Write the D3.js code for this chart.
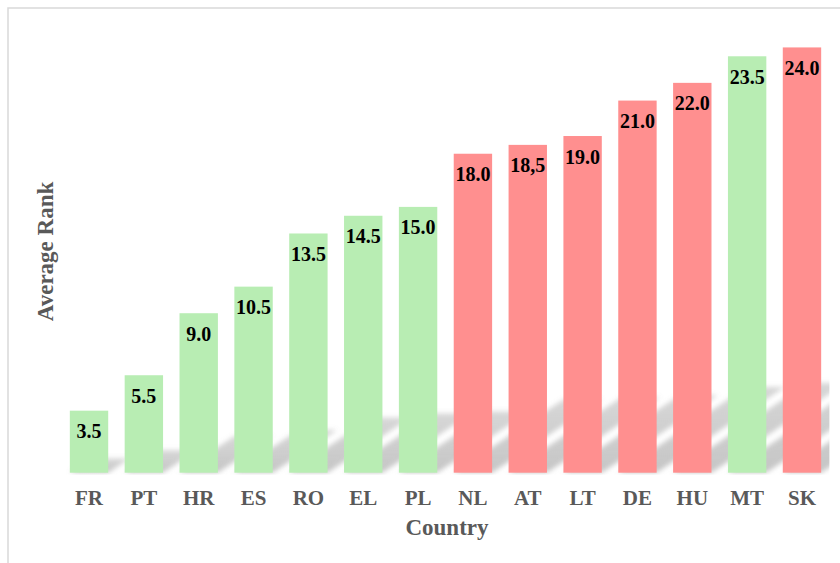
<!DOCTYPE html>
<html>
<head>
<meta charset="utf-8">
<script src="https://cdn.jsdelivr.net/npm/d3@7"></script>
<style>
  html, body { margin: 0; padding: 0; background: #fff; }
  svg { display: block; }
  text { font-family: "Liberation Serif", "Times New Roman", serif; font-weight: bold; }
</style>
</head>
<body>
<svg id="chart" width="840" height="563"></svg>
<script>
// Average rank per country
const countries = ["FR", "PT", "HR", "ES", "RO", "EL", "PL", "NL", "AT", "LT", "DE", "HU", "MT", "SK"];
const averageRank = [3.5, 5.5, 9.0, 10.5, 13.5, 14.5, 15.0, 18.0, 18.5, 19.0, 21.0, 22.0, 23.5, 24.0];
const valueLabels = ["3.5", "5.5", "9.0", "10.5", "13.5", "14.5", "15.0", "18.0", "18,5", "19.0", "21.0", "22.0", "23.5", "24.0"];
const groups = ["low", "low", "low", "low", "low", "low", "low", "high", "high", "high", "high", "high", "low", "high"];

const colors = { low: "#b8edb3", high: "#ff8f8f" };

const svg = d3.select("#chart");
const W = 840, H = 563;
const plot = { left: 61.6, right: 829.4, top: 29.7, bottom: 472.7 };

// Outer chart border
svg.append("rect")
  .attr("x", 8).attr("y", 8)
  .attr("width", W + 20).attr("height", H + 20)
  .attr("fill", "#fff")
  .attr("stroke", "#d9d9d9")
  .attr("stroke-width", 1.5);

const x = d3.scaleBand()
  .domain(countries)
  .range([plot.left, plot.right])
  .paddingInner(0.3)
  .paddingOuter(0.15);

const y = d3.scaleLinear()
  .domain([0, 25])
  .range([plot.bottom, plot.top]);

const data = countries.map((c, i) => ({ c, v: averageRank[i], label: valueLabels[i], g: groups[i] }));

const defs = svg.append("defs");
defs.append("clipPath").attr("id", "plotClip")
  .append("rect")
  .attr("x", plot.left - 20).attr("y", plot.top - 20)
  .attr("width", plot.right - plot.left + 20)
  .attr("height", plot.bottom - plot.top + 22);

const blur = defs.append("filter").attr("id", "shadowBlur")
  .attr("x", "-30%").attr("y", "-30%").attr("width", "160%").attr("height", "160%");
blur.append("feGaussianBlur").attr("stdDeviation", 2.6);

const grad = defs.append("linearGradient").attr("id", "shadowFade")
  .attr("x1", 0).attr("y1", 1).attr("x2", 0).attr("y2", 0);
grad.append("stop").attr("offset", "0%").attr("stop-color", "#8c8c8c").attr("stop-opacity", 0.5);
grad.append("stop").attr("offset", "100%").attr("stop-color", "#8c8c8c").attr("stop-opacity", 0.35);

// Perspective shadows cast behind the bars
const shadowRatio = 0.23, skew = 1.5;
svg.append("g")
  .attr("clip-path", "url(#plotClip)")
  .append("g")
  .attr("filter", "url(#shadowBlur)")
  .selectAll("polygon")
  .data(data)
  .join("polygon")
  .attr("fill", "url(#shadowFade)")
  .attr("points", d => {
    const x0 = x(d.c), x1 = x(d.c) + x.bandwidth();
    const base = y(0);
    const h = (y(0) - y(d.v)) * shadowRatio;
    return [[x0, base], [x1, base], [x1 + skew * h, base - h], [x0 + skew * h, base - h]]
      .map(p => p.join(",")).join(" ");
  });

// Bars
svg.append("g")
  .selectAll("rect")
  .data(data)
  .join("rect")
  .attr("x", d => x(d.c))
  .attr("y", d => y(d.v))
  .attr("width", x.bandwidth())
  .attr("height", d => y(0) - y(d.v))
  .attr("fill", d => colors[d.g]);

// Value labels inside the top of each bar
svg.append("g")
  .selectAll("text")
  .data(data)
  .join("text")
  .attr("x", d => x(d.c) + x.bandwidth() / 2)
  .attr("y", d => y(d.v) + 27.5)
  .attr("text-anchor", "middle")
  .attr("font-size", 20)
  .attr("fill", "#000")
  .text(d => d.label);

// Category axis
const xAxis = svg.append("g")
  .attr("transform", `translate(0,${plot.bottom})`)
  .call(d3.axisBottom(x).tickSize(0).tickPadding(0));
xAxis.select(".domain").remove();
xAxis.selectAll("text")
  .attr("y", 32.3)
  .attr("dy", null)
  .attr("font-size", 21)
  .attr("font-family", "Liberation Serif, Times New Roman, serif")
  .attr("font-weight", "bold")
  .attr("fill", "#595959");

// Axis titles
svg.append("text")
  .attr("x", (plot.left + plot.right) / 2 + 1.5)
  .attr("y", 535)
  .attr("text-anchor", "middle")
  .attr("font-size", 23)
  .attr("fill", "#595959")
  .text("Country");

svg.append("text")
  .attr("transform", "translate(53,251.5) rotate(-90)")
  .attr("text-anchor", "middle")
  .attr("font-size", 23)
  .attr("fill", "#595959")
  .text("Average Rank");
</script>
</body>
</html>
